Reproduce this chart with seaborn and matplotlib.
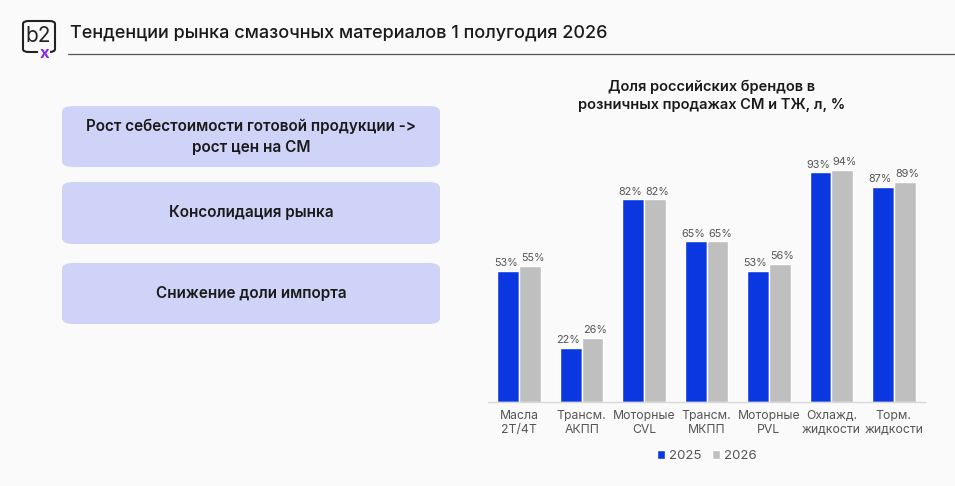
import numpy as np
import pandas as pd
import matplotlib.pyplot as plt
import seaborn as sns
from matplotlib.patches import FancyBboxPatch

# ========== данные ==========
categories = ['Масла\n2T/4T', 'Трансм.\nАКПП', 'Моторные\nCVL', 'Трансм.\nМКПП',
              'Моторные\nPVL', 'Охлажд.\nжидкости', 'Торм.\nжидкости']
share_2025 = [53, 22, 82, 65, 53, 93, 87]
share_2026 = [55, 26, 82, 65, 56, 94, 89]
years = ['2025', '2026']
trends = ['Рост себестоимости готовой продукции ->\nрост цен на СМ',
          'Консолидация рынка',
          'Снижение доли импорта']

df = pd.DataFrame({
    'cat': categories * 2,
    'year': [years[0]] * len(categories) + [years[1]] * len(categories),
    'val': share_2025 + share_2026,
})

sns.set_theme(style='white')
plt.rcParams['font.family'] = ['Inter', 'DejaVu Sans']

W, H = 955, 486
fig = plt.figure(figsize=(W / 100, H / 100), dpi=100)
fig.patch.set_facecolor('#fafafa')

def fx(px):
    return px / W

def fy(py):
    return 1 - py / H

# ========== заголовок ==========
fig.text(fx(70), fy(33), 'Тенденции рынка смазочных материалов 1 полугодия 2026',
         fontsize=13, color='#1a1a1a', va='center', ha='left', weight='medium')
fig.add_artist(plt.Line2D([fx(68), fx(955)], [fy(54), fy(54)], color='#555555', lw=0.9))

# логотип b2x
logo = FancyBboxPatch((fx(23), fy(52)), fx(32), fy(21) - fy(52),
                      boxstyle='round,pad=0,rounding_size=0.006', transform=fig.transFigure,
                      fill=False, ec='#222222', lw=1.5)
fig.add_artist(logo)
fig.add_artist(plt.Rectangle((fx(38), fy(60)), fx(12), fy(47) - fy(60),
                             transform=fig.transFigure, fc='#fafafa', ec='none'))
fig.text(fx(38.5), fy(36), 'b2', fontsize=15, color='#222222', ha='center', va='center')
fig.text(fx(44), fy(53), 'x', fontsize=12, color='#8a2be2', ha='center', va='center',
         weight='bold')

# ========== плашки слева ==========
boxes_y = [(106, 167), (182, 244), (263, 324)]
for (y0, y1), txt in zip(boxes_y, trends):
    box = FancyBboxPatch((fx(62), fy(y1)), fx(440) - fx(62), fy(y0) - fy(y1),
                         boxstyle='round,pad=0,rounding_size=0.012', transform=fig.transFigure,
                         fc='#cfd3f7', ec='none')
    fig.add_artist(box)
    fig.text(fx(251), fy((y0 + y1) / 2), txt, fontsize=11, color='#1a1a1a',
             ha='center', va='center', weight='semibold', linespacing=1.5)

# ========== график ==========
fig.text(fx(712), fy(96), 'Доля российских брендов в\nрозничных продажах СМ и ТЖ, л, %',
         fontsize=10.5, color='#1a1a1a', ha='center', va='center', weight='semibold',
         linespacing=1.35)

ax = fig.add_axes([fx(488), fy(402), fx(925) - fx(488), fy(155) - fy(402)])
ax.set_facecolor('none')
sns.barplot(data=df, x='cat', y='val', hue='year', palette=['#0a37e0', '#bfbfbf'],
            saturation=1, width=0.7, edgecolor='white', linewidth=1, ax=ax, legend=False)
for i, cont in enumerate(ax.containers):
    labels = ax.bar_label(cont, fmt='%d%%', fontsize=7.8, color='#555555', padding=2)
    dx = -1.8 if i == 0 else 1.8
    for t in labels:
        t.xyann = (dx, t.xyann[1])
ax.set_ylim(0, 100)
ax.set_xlim(-0.5, len(categories) - 0.5)
ax.set_xlabel('')
ax.set_ylabel('')
ax.set_yticks([])
for s in ['top', 'right', 'left']:
    ax.spines[s].set_visible(False)
ax.spines['bottom'].set_color('#d9d9d9')
ax.spines['bottom'].set_linewidth(1)
ax.tick_params(axis='x', length=0, labelsize=8.8, labelcolor='#555555', pad=6)

# легенда
handles = [plt.Rectangle((0, 0), 1, 1, fc=c) for c in ['#0a37e0', '#bfbfbf']]
fig.legend(handles, years, loc='center', bbox_to_anchor=(fx(707), fy(456)), ncol=2,
           frameon=False, fontsize=9.5, handlelength=0.6, handleheight=0.6,
           handletextpad=0.3, columnspacing=0.8, labelcolor='#555555')

fig.savefig('out.png', dpi=100, facecolor=fig.get_facecolor())
